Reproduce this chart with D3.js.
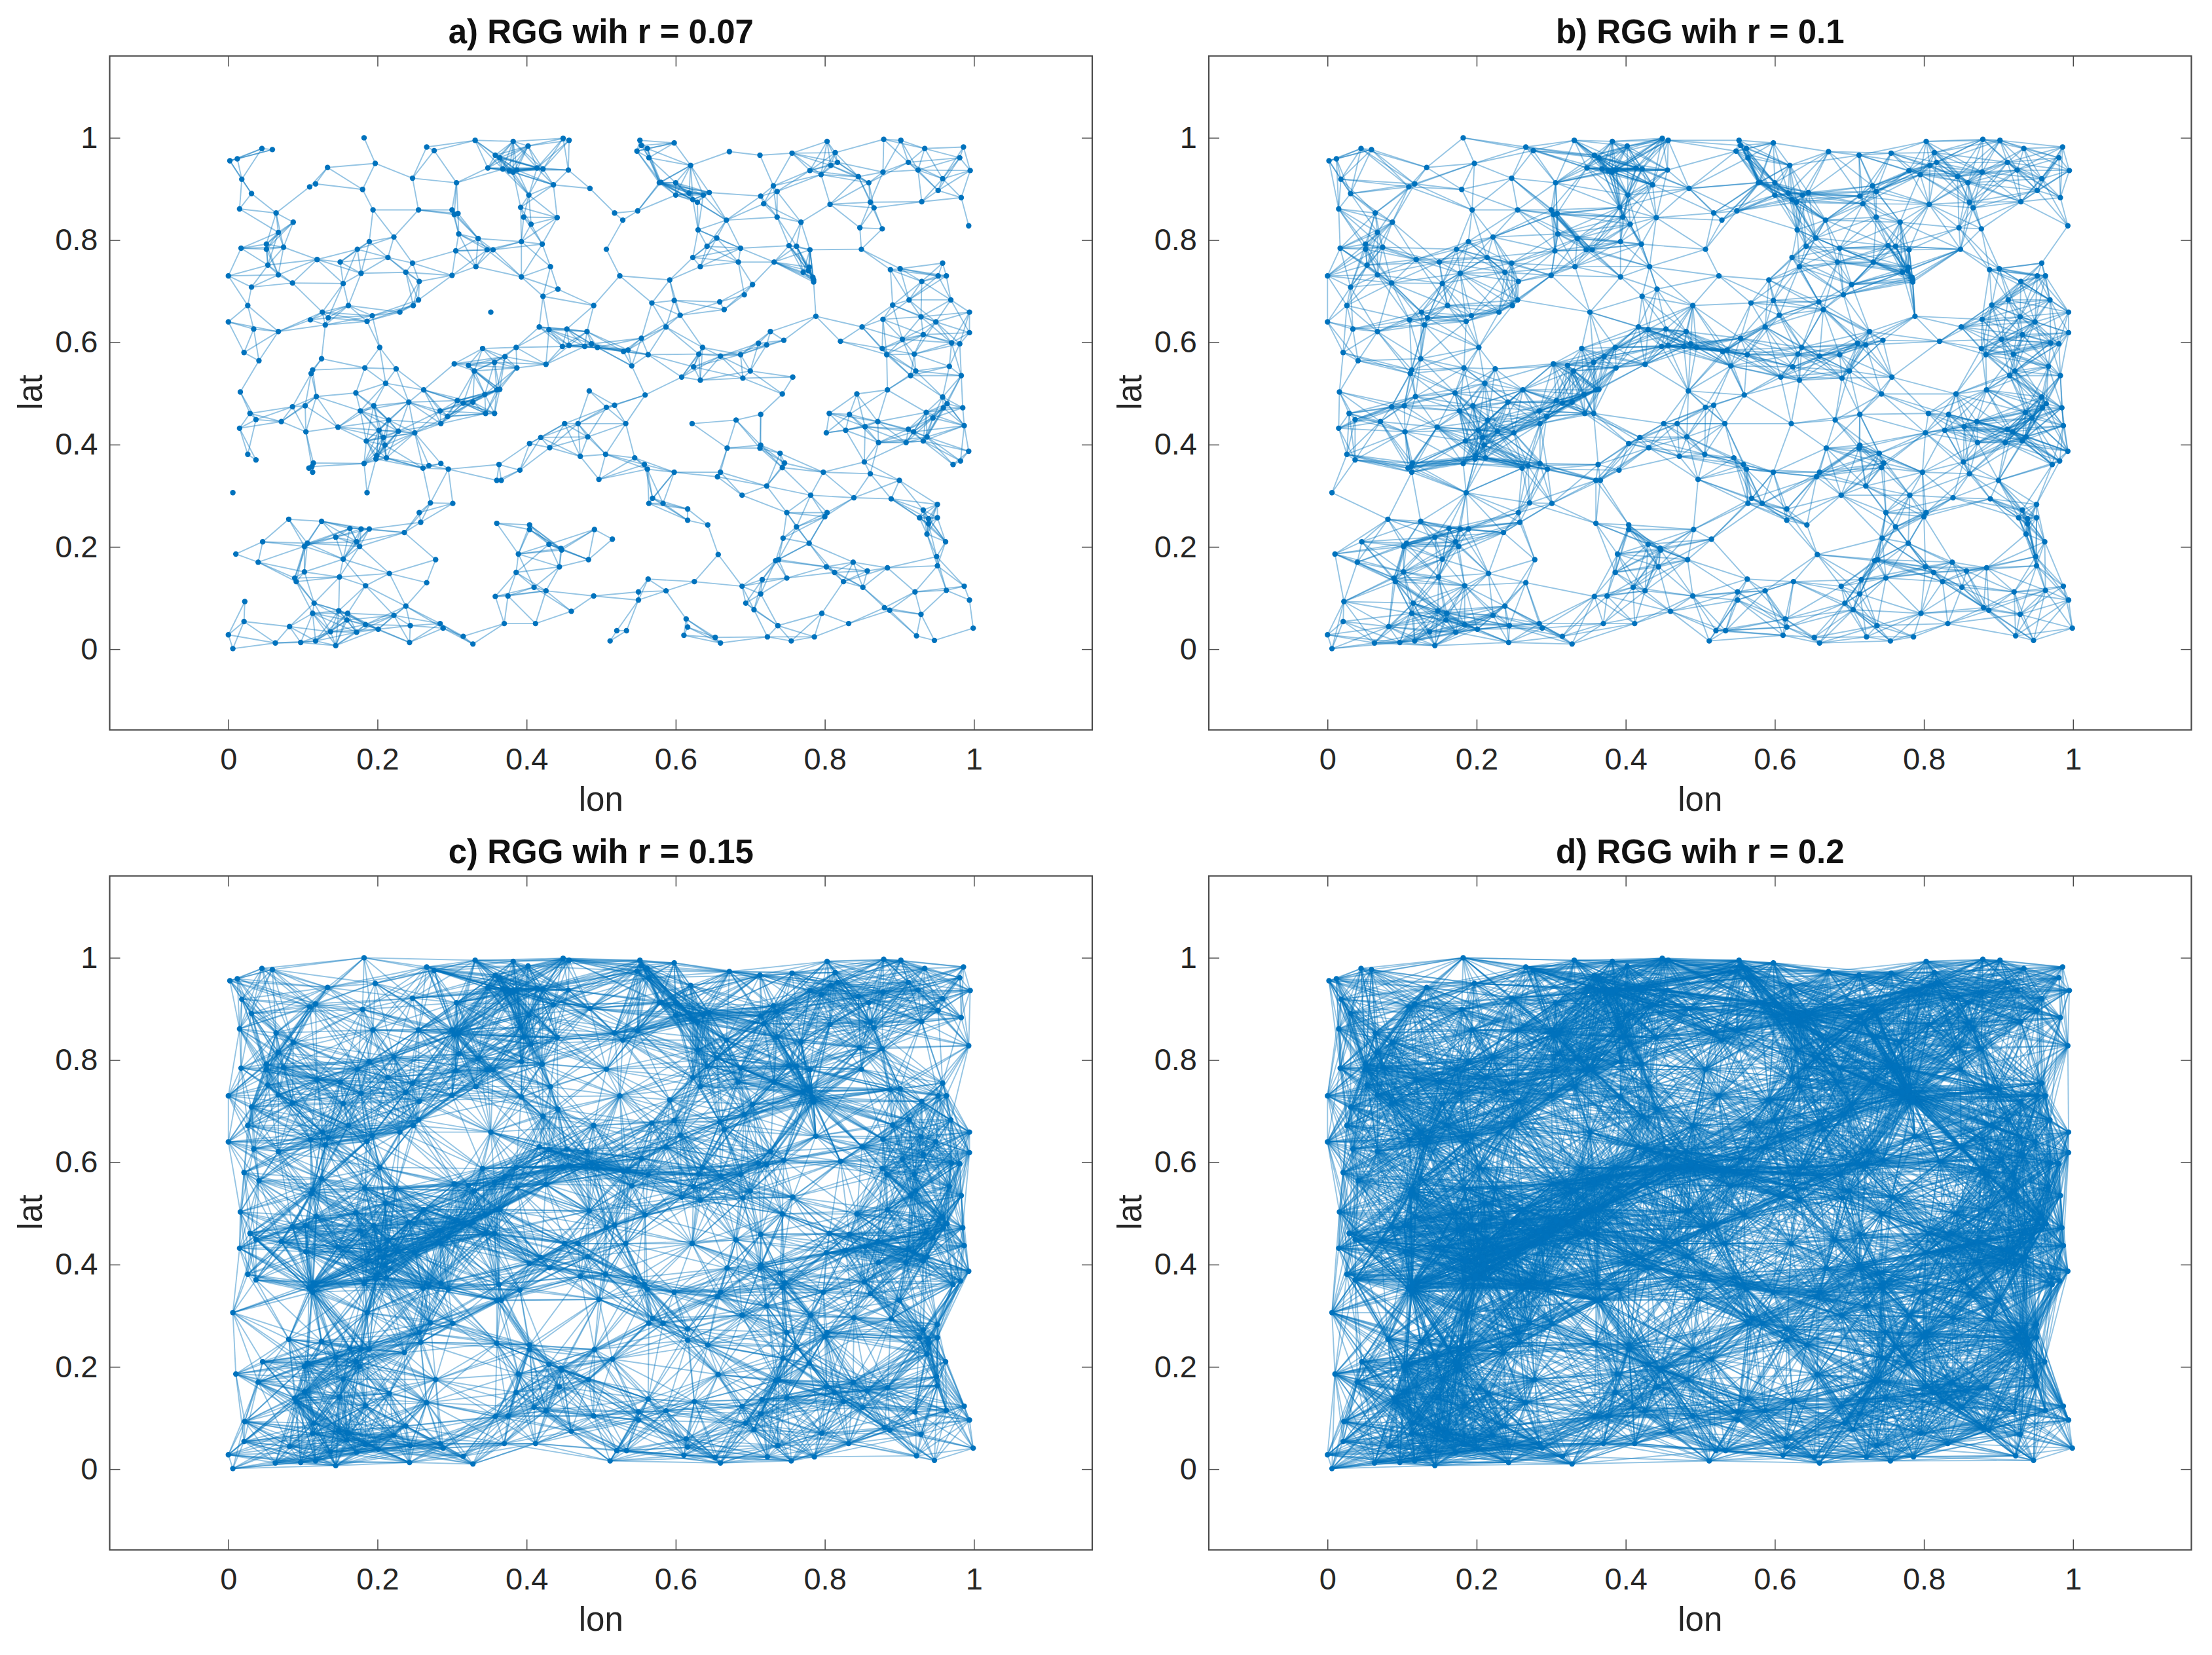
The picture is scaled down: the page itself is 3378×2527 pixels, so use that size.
<!DOCTYPE html>
<html><head><meta charset="utf-8">
<script src="https://cdnjs.cloudflare.com/ajax/libs/d3/7.8.5/d3.min.js"></script>
<style>html,body{margin:0;padding:0;background:#fff}svg{display:block}</style>
</head><body><svg id="c" width="3378" height="2527" viewBox="0 0 3378 2527"></svg>
<script>
const panelTitles=["a) RGG wih r = 0.07","b) RGG wih r = 0.1","c) RGG wih r = 0.15","d) RGG wih r = 0.2"];
const radii=[0.07,0.1,0.15,0.2];
const tickValues=[0,0.2,0.4,0.6,0.8,1];
const tickLabels=["0","0.2","0.4","0.6","0.8","1"];
const xName="lon", yName="lat";
// node positions [lon, lat], grouped by map quadrant
const nodesNW=[[.182,1.000],[.045,.979],[.059,.977],[.002,.955],[.012,.959],[.018,.919],[.031,.891],[.015,.861],[.064,.853],[.087,.835],[.067,.815],[.051,.792],[.051,.782],[.017,.784],[.074,.786],[.053,.751],[.067,.732],[.000,.730],[.031,.708],[.086,.716],[.154,.715],[.119,.762],[.150,.757],[.173,.782],[.189,.797],[.222,.806],[.214,.766],[.178,.735],[.238,.737],[.247,.755],[.256,.719],[.255,.683],[.248,.672],[.230,.659],[.193,.652],[.186,.641],[.161,.672],[.126,.659],[.134,.648],[.110,.644],[.130,.634],[.067,.621],[.034,.626],[.000,.640],[.026,.672],[.021,.580],[.041,.564],[.203,.590],[.125,.568],[.113,.546],[.111,.539],[.183,.550],[.225,.548],[.211,.520],[.133,.942],[.197,.950],[.247,.921],[.180,.899],[.109,.904],[.117,.910],[.194,.859],[.255,.859],[.300,.859],[.303,.850],[.308,.852],[.306,.912],[.266,.982],[.276,.975],[.331,.995],[.382,.993],[.402,.984],[.449,.999],[.457,.995],[.358,.966],[.364,.961],[.348,.941],[.368,.939],[.377,.935],[.382,.933],[.387,.937],[.414,.941],[.422,.939],[.456,.937],[.436,.908],[.485,.901],[.403,.888],[.392,.864],[.396,.845],[.441,.844],[.406,.831],[.309,.812],[.335,.803],[.393,.797],[.421,.792],[.305,.779],[.347,.781],[.355,.781],[.332,.748],[.300,.731],[.393,.728],[.432,.748],[.442,.704],[.422,.690],[.490,.672],[.352,.659],[.417,.630],[.430,.625],[.454,.626],[.481,.621],[.448,.592],[.457,.594],[.478,.592],[.487,.597],[.495,.590],[.341,.588],[.386,.590],[.303,.558],[.322,.555],[.357,.561],[.371,.572],[.387,.550],[.426,.557],[.330,.544]];
const nodesSW=[[.016,.503],[.118,.494],[.171,.501],[.262,.507],[.360,.507],[.364,.508],[.344,.498],[.307,.486],[.315,.481],[.328,.483],[.242,.483],[.195,.476],[.177,.466],[.086,.474],[.103,.476],[.029,.461],[.037,.449],[.071,.445],[.015,.432],[.104,.425],[.147,.434],[.215,.448],[.202,.428],[.228,.426],[.250,.423],[.208,.414],[.185,.407],[.210,.399],[.284,.466],[.294,.455],[.285,.441],[.345,.461],[.357,.461],[.199,.378],[.198,.372],[.212,.374],[.182,.363],[.114,.364],[.112,.357],[.108,.354],[.113,.346],[.026,.381],[.037,.370],[.261,.354],[.269,.359],[.285,.363],[.295,.352],[.363,.361],[.391,.350],[.360,.330],[.366,.330],[.404,.402],[.419,.414],[.431,.394],[.451,.441],[.469,.441],[.482,.415],[.472,.377],[.006,.306],[.186,.306],[.271,.286],[.301,.285],[.256,.267],[.258,.248],[.236,.228],[.081,.254],[.125,.250],[.163,.236],[.178,.235],[.189,.235],[.144,.219],[.172,.210],[.176,.201],[.106,.207],[.102,.201],[.046,.210],[.010,.186],[.040,.170],[.154,.176],[.278,.175],[.102,.151],[.089,.139],[.091,.132],[.149,.141],[.216,.148],[.184,.124],[.266,.130],[.238,.084],[.022,.093],[.115,.090],[.113,.070],[.148,.075],[.160,.070],[.222,.066],[.159,.057],[.021,.054],[.082,.044],[.184,.048],[.201,.039],[.244,.046],[.284,.050],[.288,.041],[.137,.034],[.172,.033],[.000,.028],[.063,.012],[.097,.013],[.117,.016],[.144,.007],[.006,.001],[.243,.013],[.315,.025],[.328,.010],[.370,.050],[.412,.050],[.460,.074],[.360,.246],[.404,.243],[.404,.234],[.389,.186],[.430,.205],[.446,.197],[.447,.194],[.491,.234],[.483,.175],[.444,.161],[.386,.150],[.410,.121],[.426,.114],[.358,.103],[.375,.104],[.490,.104],[.484,.505],[.497,.332]];
const nodesNE=[[.552,.995],[.598,.990],[.554,.985],[.562,.979],[.548,.974],[.564,.961],[.620,.946],[.672,.973],[.713,.966],[.756,.970],[.803,.993],[.814,.971],[.817,.952],[.808,.946],[.780,.936],[.795,.928],[.845,.924],[.859,.912],[.879,.997],[.902,.995],[.934,.979],[.986,.982],[.981,.961],[.912,.952],[.878,.933],[.925,.937],[.995,.936],[.958,.920],[.952,.897],[.983,.883],[.930,.875],[.993,.828],[.861,.874],[.866,.863],[.807,.870],[.847,.824],[.877,.822],[.849,.782],[.768,.835],[.736,.845],[.731,.906],[.736,.895],[.714,.886],[.718,.871],[.668,.839],[.645,.893],[.637,.888],[.629,.874],[.623,.879],[.618,.892],[.600,.888],[.600,.912],[.580,.913],[.578,.912],[.549,.857],[.518,.853],[.529,.839],[.630,.820],[.655,.804],[.642,.788],[.687,.784],[.623,.766],[.633,.748],[.684,.757],[.732,.757],[.752,.789],[.762,.788],[.780,.781],[.779,.747],[.778,.740],[.771,.737],[.784,.727],[.785,.722],[.785,.718],[.507,.782],[.525,.730],[.592,.722],[.568,.677],[.598,.682],[.606,.653],[.587,.630],[.659,.679],[.665,.664],[.692,.693],[.703,.713],[.788,.651],[.850,.630],[.821,.602],[.727,.621],[.745,.604],[.711,.598],[.722,.595],[.687,.576],[.660,.573],[.631,.577],[.636,.590],[.624,.552],[.608,.532],[.633,.526],[.690,.530],[.700,.544],[.757,.532],[.563,.576],[.541,.554],[.536,.585],[.530,.582],[.554,.608],[.888,.742],[.901,.744],[.958,.755],[.952,.730],[.963,.730],[.930,.719],[.913,.683],[.969,.683],[.891,.673],[.994,.659],[.929,.650],[.949,.640],[.878,.645],[.994,.619],[.932,.615],[.904,.606],[.877,.588],[.883,.576],[.920,.577],[.970,.599],[.981,.597],[.967,.553],[.922,.544],[.915,.535],[.983,.535]];
const nodesSE=[[.559,.497],[.743,.499],[.507,.473],[.518,.477],[.533,.441],[.714,.459],[.681,.448],[.622,.441],[.669,.393],[.714,.399],[.713,.393],[.506,.381],[.545,.374],[.558,.361],[.562,.352],[.598,.346],[.660,.346],[.656,.337],[.740,.383],[.746,.364],[.743,.355],[.798,.346],[.722,.319],[.689,.301],[.781,.301],[.839,.296],[.889,.294],[.900,.330],[.861,.343],[.853,.366],[.806,.461],[.833,.459],[.843,.499],[.884,.507],[.958,.493],[.964,.480],[.959,.472],[.985,.472],[.936,.463],[.945,.452],[.871,.445],[.854,.435],[.828,.428],[.802,.423],[.987,.437],[.912,.430],[.919,.425],[.937,.415],[.872,.404],[.909,.404],[.932,.407],[.993,.387],[.982,.368],[.972,.361],[.569,.295],[.564,.285],[.583,.285],[.616,.274],[.616,.252],[.643,.243],[.515,.215],[.657,.185],[.749,.267],[.803,.267],[.800,.259],[.762,.239],[.744,.217],[.779,.207],[.951,.283],[.932,.272],[.927,.257],[.939,.255],[.951,.257],[.939,.245],[.937,.225],[.962,.210],[.950,.181],[.951,.163],[.884,.159],[.838,.170],[.857,.153],[.802,.161],[.813,.150],[.825,.132],[.851,.121],[.734,.173],[.738,.175],[.749,.139],[.716,.136],[.714,.108],[.689,.123],[.694,.090],[.705,.077],[.737,.046],[.723,.024],[.755,.016],[.786,.024],[.796,.070],[.832,.050],[.563,.137],[.625,.132],[.587,.114],[.550,.112],[.550,.096],[.521,.036],[.534,.036],[.512,.016],[.614,.059],[.616,.043],[.611,.027],[.653,.023],[.660,.012],[.880,.081],[.887,.076],[.929,.068],[.921,.112],[.963,.115],[.987,.123],[.994,.096],[.999,.041],[.923,.026],[.947,.017]];
const nodes=[...nodesNW,...nodesSW,...nodesNE,...nodesSE];

const BLUE="#0072BD", AX="#4a4a4a", TXT="#262626", FONT="'Liberation Sans',Arial,Helvetica,sans-serif";
const frames=[
  {l:167.5,t:85.5,r:1668,b:1114.5},
  {l:1846,t:85.5,r:3346.5,b:1114.5},
  {l:167.5,t:1337.5,r:1668,b:2366.5},
  {l:1846,t:1337.5,r:3346.5,b:2366.5}
];
const svg=d3.select("#c");
svg.append("rect").attr("width",3378).attr("height",2527).attr("fill","#fff");

frames.forEach((f,k)=>{
  const x=d3.scaleLinear().domain([-0.1592,1.1587]).range([f.l,f.r]);
  const y=d3.scaleLinear().domain([-0.158,1.16]).range([f.b,f.t]);
  const g=svg.append("g");
  const lim=radii[k]+0.0005, lim2=lim*lim; // reading tolerance on the connection radius
  const edges=[];
  for(let i=0;i<nodes.length;i++)for(let j=i+1;j<nodes.length;j++){
    const dx=nodes[i][0]-nodes[j][0],dy=nodes[i][1]-nodes[j][1];
    if(dx*dx+dy*dy<=lim2)edges.push([nodes[i],nodes[j]]);
  }
  g.append("g").attr("stroke",BLUE).attr("stroke-width",1.9).attr("stroke-opacity",0.42)
    .selectAll("line").data(edges).join("line")
    .attr("x1",d=>x(d[0][0])).attr("y1",d=>y(d[0][1]))
    .attr("x2",d=>x(d[1][0])).attr("y2",d=>y(d[1][1]));
  g.append("g").attr("fill",BLUE).selectAll("circle").data(nodes).join("circle")
    .attr("cx",d=>x(d[0])).attr("cy",d=>y(d[1])).attr("r",4.2);

  const fmt=(d,i)=>tickLabels[i];
  const style=a=>{a.select(".domain").remove();
    a.selectAll(".tick line").attr("stroke",AX).attr("stroke-width",1.5);};
  const ax=[
    g.append("g").attr("transform",`translate(0,${f.b})`).call(d3.axisBottom(x).tickValues(tickValues).tickSizeInner(-16).tickSizeOuter(0).tickPadding(27).tickFormat(fmt)),
    g.append("g").attr("transform",`translate(${f.l},0)`).call(d3.axisLeft(y).tickValues(tickValues).tickSizeInner(-16).tickSizeOuter(0).tickPadding(18).tickFormat(fmt)),
    g.append("g").attr("transform",`translate(0,${f.t})`).call(d3.axisTop(x).tickValues(tickValues).tickSizeInner(-16).tickSizeOuter(0).tickFormat("")),
    g.append("g").attr("transform",`translate(${f.r},0)`).call(d3.axisRight(y).tickValues(tickValues).tickSizeInner(-16).tickSizeOuter(0).tickFormat(""))
  ];
  ax.forEach(a=>{style(a);a.selectAll("text").attr("font-family",FONT).attr("font-size",47).attr("fill",TXT);});
  g.append("rect").attr("x",f.l).attr("y",f.t).attr("width",f.r-f.l).attr("height",f.b-f.t)
    .attr("fill","none").attr("stroke",AX).attr("stroke-width",2.2);
  const cx=(f.l+f.r)/2;
  g.append("text").attr("x",cx).attr("y",f.t-20).attr("text-anchor","middle")
    .attr("font-family",FONT).attr("font-weight","bold").attr("font-size",51).attr("fill","#111").text(panelTitles[k]);
  g.append("text").attr("x",cx).attr("y",f.b+123).attr("text-anchor","middle")
    .attr("font-family",FONT).attr("font-size",51).attr("fill",TXT).text(xName);
  g.append("text").attr("transform",`translate(${f.l-103.5},${(f.t+f.b)/2-1}) rotate(-90)`).attr("text-anchor","middle")
    .attr("font-family",FONT).attr("font-size",51).attr("fill",TXT).text(yName);
});
</script></body></html>
